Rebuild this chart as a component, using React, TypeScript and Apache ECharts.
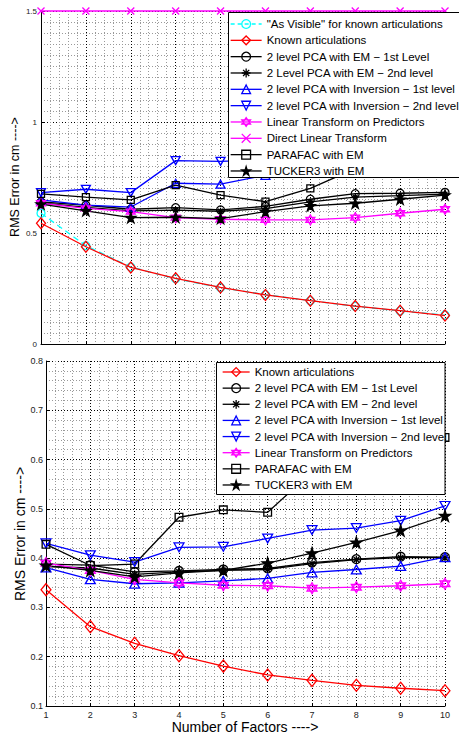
import React, { useEffect, useRef } from "react";
import * as echarts from "echarts";

// ---------- data ----------
const factors = [1, 2, 3, 4, 5, 6, 7, 8, 9, 10];

// top plot
const topAsVisible = [0.589, 0.443, 0.347, 0.294, 0.254, 0.222, 0.195, 0.17, 0.149, 0.13];
const topKnown = [0.544, 0.438, 0.345, 0.296, 0.255, 0.221, 0.195, 0.171, 0.15, 0.128];
const topEm1 = [0.64, 0.625, 0.607, 0.614, 0.604, 0.62, 0.652, 0.677, 0.679, 0.683];
const topEm2 = [0.636, 0.615, 0.6, 0.603, 0.598, 0.61, 0.64, 0.662, 0.668, 0.675];
const topInv1 = [0.649, 0.626, 0.617, 0.724, 0.72, 0.76, 0.78, 0.8, 0.82, 0.84];
const topInv2 = [0.682, 0.697, 0.682, 0.826, 0.823, 0.83, 0.85, 0.87, 0.89, 0.91];
const topLtp = [0.634, 0.611, 0.596, 0.569, 0.562, 0.559, 0.559, 0.569, 0.589, 0.607];
const topDlt = [1.5, 1.5, 1.5, 1.5, 1.5, 1.5, 1.5, 1.5, 1.5, 1.5];
const topParafac = [0.676, 0.662, 0.649, 0.716, 0.671, 0.641, 0.701, 0.79, 0.86, 0.92];
const topTucker = [0.63, 0.6, 0.569, 0.571, 0.565, 0.596, 0.622, 0.634, 0.652, 0.671];

// bottom plot
const botKnown = [0.336, 0.261, 0.227, 0.202, 0.181, 0.163, 0.152, 0.142, 0.136, 0.131];
const botEm1 = [0.388, 0.386, 0.372, 0.374, 0.377, 0.379, 0.391, 0.398, 0.403, 0.402];
const botEm2 = [0.383, 0.38, 0.367, 0.372, 0.375, 0.377, 0.389, 0.397, 0.401, 0.401];
const botInv1 = [0.381, 0.357, 0.348, 0.35, 0.354, 0.359, 0.371, 0.377, 0.384, 0.402];
const botInv2 = [0.43, 0.406, 0.392, 0.422, 0.423, 0.44, 0.457, 0.461, 0.476, 0.506];
const botLtp = [0.39, 0.375, 0.357, 0.35, 0.345, 0.344, 0.339, 0.341, 0.344, 0.348];
const botParafac = [0.428, 0.385, 0.388, 0.483, 0.498, 0.493, 0.575, 0.6, 0.62, 0.645];
const botTucker = [0.385, 0.375, 0.362, 0.37, 0.375, 0.39, 0.41, 0.432, 0.456, 0.486];

const topYTicks = [0, 1.5, 0.5];
const botYTicks = [0.1, 0.8, 0.1];

// ---------- names ----------
const N_AV = '"As Visible" for known articulations';
const N_KA = "Known articulations";
const N_EM1 = "2 level PCA with EM \u2212 1st Level";
const N_EM2T = "2 Level PCA with EM \u2212 2nd level";
const N_EM2B = "2 level PCA with EM \u2212 2nd level";
const N_INV1 = "2 level PCA with Inversion \u2212 1st level";
const N_INV2 = "2 level PCA with Inversion \u2212 2nd level";
const N_LTP = "Linear Transform on Predictors";
const N_DLT = "Direct Linear Transform";
const N_PAR = "PARAFAC with EM";
const N_TUC = "TUCKER3 with EM";

const FONT = "'Liberation Sans', Arial, Helvetica, sans-serif";

const SYM = {
  circle: "circle",
  diamond: "diamond",
  triUp: "triangle",
  triDown: "path://M0,0L10,0L5,8.66Z",
  x: "path://M0,0L10,10M10,0L0,10",
  asterisk: "path://M5,0L5,10M0,5L10,5M1.5,1.5L8.5,8.5M8.5,1.5L1.5,8.5",
  hexagram: "path://M5,0L9.33,7.5L0.67,7.5ZM5,10L0.67,2.5L9.33,2.5Z",
  star: "path://M5,0L6.12,3.46L9.76,3.46L6.81,5.59L7.94,9.05L5,6.9L2.06,9.05L3.19,5.59L0.24,3.46L3.88,3.46Z",
  square: "rect",
};

const RED = "#ff0000";
const BLUE = "#0000ff";
const MAG = "#ff00ff";
const BLK = "#000000";
const CYAN = "#00ffff";
const LW = 1.3;

type Style = { color: string; symbol: string; fill?: string; dashed?: boolean };
const STY: Record<string, Style> = {
  [N_AV]: { color: CYAN, symbol: SYM.circle, dashed: true },
  [N_KA]: { color: RED, symbol: SYM.diamond },
  [N_EM1]: { color: BLK, symbol: SYM.circle },
  [N_EM2T]: { color: BLK, symbol: SYM.asterisk },
  [N_EM2B]: { color: BLK, symbol: SYM.asterisk },
  [N_INV1]: { color: BLUE, symbol: SYM.triUp },
  [N_INV2]: { color: BLUE, symbol: SYM.triDown },
  [N_LTP]: { color: MAG, symbol: SYM.hexagram },
  [N_DLT]: { color: MAG, symbol: SYM.x },
  [N_PAR]: { color: BLK, symbol: SYM.square },
  [N_TUC]: { color: BLK, symbol: SYM.star, fill: BLK },
};

function sizeFor(sym: string, bottom: boolean): number | number[] {
  const k = bottom ? 1.1 : 1;
  switch (sym) {
    case SYM.diamond: return [9 * k, 11 * k];
    case SYM.triUp:
    case SYM.triDown: return [9 * k, 8 * k];
    case SYM.square: return 7 * k;
    case SYM.circle: return 8 * k;
    case SYM.star: return 10 * k;
    case SYM.hexagram: return [9 * k, 10 * k];
    case SYM.x: return 7;
    case SYM.asterisk: return 7 * k;
    default: return 8;
  }
}

function mkSeries(name: string, values: number[], gi: number) {
  const s = STY[name];
  return {
    type: "line",
    name,
    xAxisIndex: gi,
    yAxisIndex: gi,
    data: factors.map((f, i) => [f, values[i]]),
    symbol: s.symbol,
    symbolSize: sizeFor(s.symbol, gi === 1),
    clip: false,
    silent: true,
    lineStyle: { color: s.color, width: LW, type: s.dashed ? [6, 4] : "solid" },
    itemStyle: { color: s.fill || "rgba(0,0,0,0)", borderColor: s.color, borderWidth: LW },
    emphasis: { disabled: true },
  };
}

function legendItem(name: string) {
  const s = STY[name];
  return {
    name,
    itemStyle: { color: s.fill || "rgba(0,0,0,0)", borderColor: s.color, borderWidth: LW },
    lineStyle: { color: s.color, width: LW, type: s.dashed ? [4, 3] : "solid" },
  };
}

function xAxisFor(gi: number, showLabels: boolean) {
  return {
    gridIndex: gi,
    type: "value",
    min: 1,
    max: 10,
    interval: 1,
    axisLine: { show: true, onZero: false, lineStyle: { color: "#000", width: 1 } },
    axisTick: { show: true, inside: true, length: 3, lineStyle: { color: "#000" } },
    axisLabel: { show: showLabels, fontSize: 9, color: "#222", margin: 4, fontFamily: FONT },
    splitLine: { show: true, lineStyle: { color: "#000", type: [1, 2], width: 1 } },
    minorTick: { show: false, splitNumber: 5 },
    minorSplitLine: { show: true, lineStyle: { color: "#999", type: [1, 2], width: 1 } },
  };
}

function yAxisFor(gi: number, ticks: number[], minorSplit: number, fontSize: number, margin: number) {
  return {
    gridIndex: gi,
    type: "value",
    min: ticks[0],
    max: ticks[1],
    interval: ticks[2],
    axisLine: { show: true, onZero: false, lineStyle: { color: "#000", width: 1 } },
    axisTick: { show: true, inside: true, length: 3, lineStyle: { color: "#000" } },
    axisLabel: {
      fontSize,
      color: "#222",
      margin,
      fontFamily: FONT,
      formatter: (v: number) => (gi === 1 ? v.toFixed(1) : String(Math.round(v * 10) / 10)),
    },
    splitLine: { show: true, lineStyle: { color: "#000", type: [1, 2], width: 1 } },
    minorTick: { show: false, splitNumber: minorSplit },
    minorSplitLine: { show: true, lineStyle: { color: "#999", type: [1, 2], width: 1 } },
  };
}

const topNames = [N_AV, N_KA, N_EM1, N_EM2T, N_INV1, N_INV2, N_LTP, N_DLT, N_PAR, N_TUC];
const botNames = [N_KA, N_EM1, N_EM2B, N_INV1, N_INV2, N_LTP, N_PAR, N_TUC];

export default function App() {
  const ref = useRef<HTMLDivElement>(null);
  useEffect(() => {
    if (!ref.current) return;
    const chart = echarts.init(ref.current, undefined, { renderer: "svg" });
    const option = {
      animation: false,
      backgroundColor: "#fff",
      textStyle: { fontFamily: FONT },
      grid: [
        { left: 41, top: 11, width: 404, height: 333 },
        { left: 46, top: 361, width: 399, height: 345 },
      ],
      xAxis: [xAxisFor(0, false), xAxisFor(1, true)],
      yAxis: [yAxisFor(0, topYTicks, 10, 8, 4), yAxisFor(1, botYTicks, 5, 9, 3)],
      legend: [
        {
          orient: "vertical",
          left: 230,
          top: 17,
          padding: 0,
          itemWidth: 31,
          itemHeight: 11,
          itemGap: 2.33,
          selectedMode: false,
          z: 200,
          textStyle: { fontSize: 11.5, color: "#000", fontFamily: FONT, lineHeight: 14 },
          data: topNames.map(legendItem),
        },
        {
          orient: "vertical",
          left: 222,
          top: 365,
          padding: 0,
          itemWidth: 27,
          itemHeight: 11,
          itemGap: 2.14,
          selectedMode: false,
          z: 200,
          textStyle: { fontSize: 11.5, color: "#000", fontFamily: FONT, lineHeight: 14 },
          data: botNames.map(legendItem),
        },
      ],
      graphic: [
        {
          type: "rect",
          z: 100,
          shape: { x: 228.5, y: 12.5, width: 260, height: 165 },
          style: { fill: "#fff", stroke: "#000", lineWidth: 1 },
        },
        {
          type: "rect",
          z: 100,
          shape: { x: 216.5, y: 362.5, width: 228.5, height: 132 },
          style: { fill: "#fff", stroke: "#000", lineWidth: 1 },
        },
        {
          type: "text",
          x: 15,
          y: 177,
          rotation: Math.PI / 2,
          style: { text: "RMS Error in cm ---->", fontSize: 12.5, fontFamily: FONT, fill: "#000", align: "center", verticalAlign: "middle" },
        },
        {
          type: "text",
          x: 20,
          y: 534,
          rotation: Math.PI / 2,
          style: { text: "RMS Error in cm ---->", fontSize: 14, fontFamily: FONT, fill: "#000", align: "center", verticalAlign: "middle" },
        },
        {
          type: "text",
          x: 245,
          y: 727,
          style: { text: "Number of Factors ---->", fontSize: 14, fontFamily: FONT, fill: "#000", align: "center", verticalAlign: "middle" },
        },
      ],
      series: [
        mkSeries(N_AV, topAsVisible, 0),
        mkSeries(N_KA, topKnown, 0),
        mkSeries(N_EM1, topEm1, 0),
        mkSeries(N_EM2T, topEm2, 0),
        mkSeries(N_INV1, topInv1, 0),
        mkSeries(N_INV2, topInv2, 0),
        mkSeries(N_LTP, topLtp, 0),
        mkSeries(N_DLT, topDlt, 0),
        mkSeries(N_PAR, topParafac, 0),
        mkSeries(N_TUC, topTucker, 0),
        mkSeries(N_KA, botKnown, 1),
        mkSeries(N_EM1, botEm1, 1),
        mkSeries(N_EM2B, botEm2, 1),
        mkSeries(N_INV1, botInv1, 1),
        mkSeries(N_INV2, botInv2, 1),
        mkSeries(N_LTP, botLtp, 1),
        mkSeries(N_PAR, botParafac, 1),
        mkSeries(N_TUC, botTucker, 1),
      ],
    };
    chart.setOption(option as any);
    return () => chart.dispose();
  }, []);
  return (
    <div
      ref={ref}
      style={{ position: "absolute", left: 0, top: 0, width: 459, height: 736, background: "#fff" }}
    />
  );
}
